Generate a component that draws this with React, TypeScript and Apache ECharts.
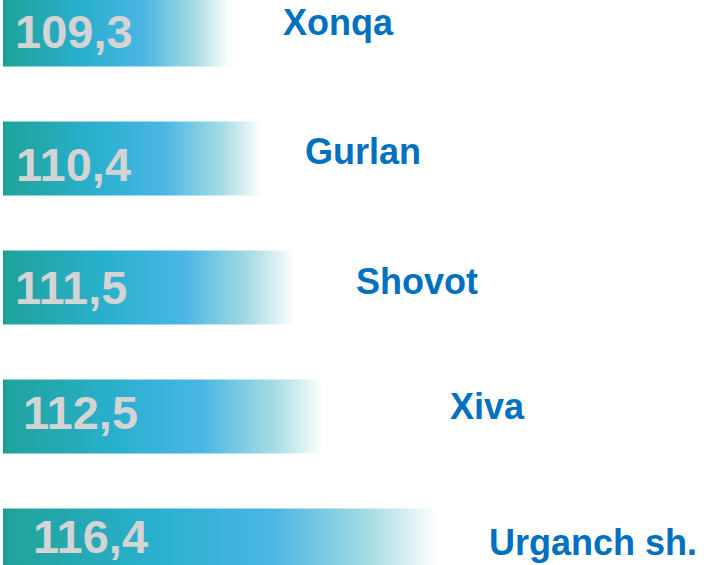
import React, { useEffect, useRef } from "react";
import * as echarts from "echarts";

const categories = ["Xonqa", "Gurlan", "Shovot", "Xiva", "Urganch sh."];
const values = [109.3, 110.4, 111.5, 112.5, 116.4];
const valueLabels = ["109,3", "110,4", "111,5", "112,5", "116,4"];
// offset [x, y] of each district name from its bar end (px)
const nameOffset = [[46, -7], [35, -7], [53, -6], [117, -10], [39, -3]];
// distance of each value label from the bar start and vertical nudge (px)
const valueShift = [12, 13, 12, 20, 30];
const valueNudge = [2, 6, 0, -4, -9];

export default function App() {
  const ref = useRef<HTMLDivElement>(null);
  useEffect(() => {
    if (!ref.current) return;
    const chart = echarts.init(ref.current, null, { renderer: "svg" });
    const grad = new echarts.graphic.LinearGradient(0, 0, 1, 0, [
      { offset: 0, color: "#17988f" },
      { offset: 0.01, color: "#1fa39b" },
      { offset: 0.35, color: "#2ab0cf" },
      { offset: 0.6, color: "#4ab6e4" },
      { offset: 0.82, color: "#a6dce3" },
      { offset: 0.97, color: "rgba(255,255,255,1)" },
      { offset: 1, color: "rgba(255,255,255,0)" },
    ]);
    chart.setOption({
      animation: false,
      grid: { left: 3, right: 0, top: 0, bottom: 0, containLabel: false },
      xAxis: {
        type: "value",
        min: 101.5,
        max: 125.2,
        show: false,
      },
      yAxis: {
        type: "category",
        data: categories,
        inverse: true,
        show: false,
      },
      series: [
        {
          type: "bar",
          barWidth: 74,
          data: values.map((v, i) => ({
            value: v,
            label: { distance: valueShift[i], offset: [0, valueNudge[i]] },
          })),
          itemStyle: { color: grad },
          label: {
            show: true,
            position: "insideLeft",
            formatter: (p: any) => valueLabels[p.dataIndex],
            color: "#d4d4d4",
            fontFamily: "Liberation Sans, Arial, sans-serif",
            fontWeight: "bold",
            fontSize: 47,
            lineHeight: 40,
          },
          silent: true,
        },
        {
          type: "bar",
          barWidth: 74,
          barGap: "-100%",
          data: values.map((v, i) => ({
            value: v,
            label: { offset: nameOffset[i] },
          })),
          itemStyle: { color: "rgba(0,0,0,0)" },
          label: {
            show: true,
            position: "right",
            distance: 0,
            formatter: (p: any) => categories[p.dataIndex],
            color: "#0070c0",
            fontFamily: "Liberation Sans, Arial, sans-serif",
            fontWeight: "bold",
            fontSize: 36,
          },
          silent: true,
        },
      ],
    });
    return () => chart.dispose();
  }, []);
  return (
    <div
      ref={ref}
      style={{ position: "fixed", left: 0, top: -35, width: 714, height: 645, background: "#fff" }}
    />
  );
}
